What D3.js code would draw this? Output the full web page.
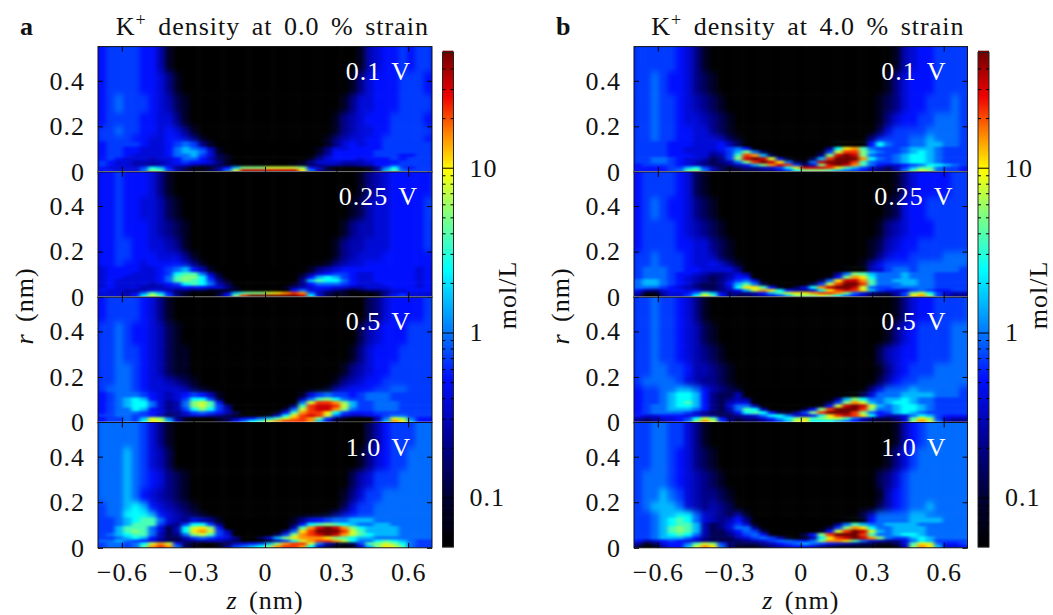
<!DOCTYPE html>
<html>
<head>
<meta charset="utf-8">
<script src="https://cdn.jsdelivr.net/npm/d3@7"></script>
<style>
  html, body { margin: 0; padding: 0; background: #fff; }
  text { font-family: "Liberation Serif", serif; fill: #111; letter-spacing: 1px; }
</style>
</head>
<body>
<div id="chart"></div>
<script>
// Density levels in mol/L, one per code character in the grids below
const densityLevels = [0.05, 0.08, 0.13, 0.2, 0.28, 0.38, 0.52, 0.68, 0.92, 1.5, 2.4, 3.7, 5.2, 7.5, 10.5, 15, 22, 32, 50];
const levelCodes = "0123456789abcdefghi";

const voltages = ["0.1 V", "0.25 V", "0.5 V", "1.0 V"];
const strains = ["0.0", "4.0"];
const panelLetters = ["a", "b"];
const zTicks = [-0.6, -0.3, 0, 0.3, 0.6];
const rTicks = [0, 0.2, 0.4];
const barTicks = [0.1, 1, 10];
const barMinorTicks = [0.06, 0.07, 0.08, 0.09, 0.2, 0.3, 0.4, 0.5, 0.6, 0.7, 0.8, 0.9, 2, 3, 4, 5, 6, 7, 8, 9, 20, 30, 40];

// Cell edges in nm. r is finer near the axis, where the thin bright layers sit
const zEdges = [-0.735, -0.7, -0.665, -0.63, -0.595, -0.56, -0.525, -0.49, -0.455, -0.42, -0.385, -0.35, -0.315, -0.28, -0.245, -0.21, -0.175, -0.14, -0.105, -0.07, -0.035, 0, 0.035, 0.07, 0.105, 0.14, 0.175, 0.21, 0.245, 0.28, 0.315, 0.35, 0.385, 0.42, 0.455, 0.49, 0.525, 0.56, 0.595, 0.63, 0.665, 0.7, 0.735];
const rEdges = [-0.03, 0.012, 0.024, 0.036, 0.05, 0.065, 0.08, 0.095, 0.11, 0.13, 0.16, 0.2, 0.26, 0.34, 0.44, 0.6];

// Grids, top row first
const strain0V01 = [
  "667777664100000000000000000000001456676776",
  "667777665310000000000000000000013566677766",
  "667877765421000000000000000000135566677776",
  "667777665531000000000000000001345666777766",
  "677877665653100000000000000001345566777776",
  "677776655665310000000000000013455667777766",
  "667777655678731000000000000013565667777776",
  "667766555689874100000000000135566667777776",
  "667766555689985100000000000136666677777776",
  "667765555688975210000000000246666677766776",
  "667655545568864210000000001356665666767776",
  "676554444567665310000000013555444566677776",
  "676554434555433211000000112344334466777776",
  "6655557a9632001369cccddddc6410000138a76776",
  "6665558cb74211248dhhhhhhhe8421000149b87776"
];
const strain0V025 = [
  "566766653100000000000000000000001345666667",
  "566766554210000000000000000000012455666677",
  "566766654321000000000000000000134455666676",
  "566776655431000000000000000001344555666676",
  "566776665553100000000000000001345556666666",
  "566766566665310000000000000013455666666666",
  "556666556789641000000000001345666666666565",
  "5566655567abb84100000000013567765566666565",
  "5566555568bcca62000000000269a9765566666565",
  "5565555568bcba7310000000039baa865566666565",
  "55655554567aba8420000000136888765556666565",
  "556555444556665531000001345665544555666565",
  "565544455433221111000000685543212334556665",
  "5555458b9621000149bccdefgf8421100013565555",
  "555546adb73100026cgiiiiiiha521100014675555"
];
const strain0V05 = [
  "667777653100000000000000000000000235666677",
  "677876654210000000000000000000002456667777",
  "677877654211000000000000000000013566677777",
  "677887654211000000000000000000134566777777",
  "677887655432100000000000000001345667777777",
  "678887655554210000000000000014566677887777",
  "667888765456764100000000015787767888777777",
  "66789a965457aa7200000000048bca877888777777",
  "66789aa85348cdb60000000008dggfc97788877777",
  "66789aa85348cdb7300000003bghhgd97788877777",
  "66788a965347aca7400000028dghhfc87788877777",
  "667888765335787642000016bfggea766677777777",
  "67788776423455432100015aeghgd8544567887777",
  "6677879dc8310001235689bdfgfc73100048dc8666",
  "667787aed9410001268abdfgggf951000059fe9666"
];
const strain0V10 = [
  "788888753100000000000000000000000246777888",
  "788898754200000000000000000000001356778888",
  "788898765321000000000000000000024577788888",
  "788898654321000000000000000000135778888888",
  "77889a965432100000000000000000257788888888",
  "7788aaa96543210000000000000013567788888888",
  "77789abb8543543100000000135678899988888888",
  "77789bbb7437aa730000000026abcba98899888888",
  "7779bbb8524adec6000000004bfhihfca999988888",
  "7779bcb8524aefd7400000038egiiigdb999988888",
  "7789abb84238cdb750000027cfghihfdba99988888",
  "77789a96422478765300259cefffecba9988888888",
  "788987653223344432000147adfggfda88aba98777",
  "778878adfd621001245679cfggd842127bcdca8777",
  "778878bfgf8210013789acfggfa5210159cedb8777"
];
const strain4V01 = [
  "677777653100000000000000000000001456677777",
  "677876653210000000000000000000013566677777",
  "677877654321000000000000000000123566777877",
  "677877655432100000000000000000135667788877",
  "677877665532100000000000000000257777888877",
  "677877665554210000000000000003677788988877",
  "677776665556420000000000000006a87788998877",
  "6777766555567860000000003aefb8777899987777",
  "67777665554579c8200000017dggc987789a987777",
  "6777766655347bgf92000003chihc87789aa987777",
  "6778876554237chihd510029giiifa8789aa987777",
  "67788765432348cgihe8218hiiigb87789aa987777",
  "6677776543223469cfhg725chihfb8655678aa9877",
  "66666779a7421233457aehhhgeb97532479bb87766",
  "6666678bc84211223357acccb987643248bdc87766"
];
const strain4V025 = [
  "667777652100000000000000000000001356666777",
  "667876653210000000000000000000012566777777",
  "667777654321000000000000000000134566677777",
  "667777665532100000000000000001245667777777",
  "677877765542100000000000000001356677778888",
  "677877765565310000000000000014677778888887",
  "678887766555530000000000000004578878888877",
  "678887665433453000000000038cb9888988877777",
  "67888765432346600000000016cfea888988877777",
  "7899876543235785000000028ehhfb889998877777",
  "78998765322369b820000027dgiigb888998877777",
  "7888765432235aeeb61025afhiihd8778888877777",
  "764356655323469dfea6435aeghge9765578766777",
  "641145568b95333469bdeefggfc8532247cda75445",
  "53003557aeb632234579cccdca86421137efc74334"
];
const strain4V05 = [
  "677877653100000000000000000000001356677778",
  "677877654210000000000000000000013567777888",
  "677877654321000000000000000000245667777888",
  "677887764432100000000000000000135677788888",
  "678888754332100000000000000000246778888888",
  "667788998643210000000000000003688898888877",
  "667789aa9632240000000000000025888999988877",
  "667789aa9632343000000000039ca8899a98877777",
  "667789ab963245500000000027cfd989aa98877777",
  "667889aa96325884000000016dhihd989aa9877777",
  "66788999863248ba4000026cgiiigc889aa9877777",
  "66788887532236aba62137cgiiigc8679a98777777",
  "76556665543223458aa8546aeghgea64458a976666",
  "64345567adb63233579acdbcddb8532235bec75445",
  "53234568cfd731223579deaaa986321125cfd84334"
];
const strain4V10 = [
  "777887753100000000000000000000001467888888",
  "777887653210000000000000000000013578888888",
  "778887654321000000000000000000235788888888",
  "778898754332100000000000000000146788888888",
  "778999854343200000000000000000246788988888",
  "777899aa8543241000000000000025888899888888",
  "77789aba8543463000000000000016888899998888",
  "77789abb9423575100000000038b98899998888888",
  "77789bcb942358830000000027cfea889999888888",
  "77789bcb94224687200000016dgihd989999888888",
  "77789aba842235786100026cgiiigb889aa9888888",
  "77789998632224578741014aeghihfc8779a988888",
  "76456765432222345788768cffeb8543358a977778",
  "63125668bdc73222346789876543221125bed86678",
  "52014669dfe83111234566532111110014cfe95567"
];
const gridsByStrain = [
  [strain0V01, strain0V025, strain0V05, strain0V10],
  [strain4V01, strain4V025, strain4V05, strain4V10]
];

const width = 1053;
const height = 615;
const panelX = [[98, 432], [634, 967.5]];
const barX = [[442.5, 453.5], [978, 989]];
const barLabelGap = [62, 58];
const panelTop = 46.6;
const panelH = 125.3;
const splitR = 0.11;
const labelSize = 26;

// Colour along the bar, position 0 to 1 on the log axis
const barStops = [0, 0.1, 0.22, 0.34, 0.44, 0.56, 0.67, 0.76, 0.83, 0.91, 1];
const barColors = ["#000000", "#000036", "#000098", "#0010ff", "#0080ff", "#00ffff", "#80ff80", "#ffff00", "#ff8c00", "#f00000", "#700000"];
const logPos = d3.scaleLog().domain([0.05, 50]).range([0, 1]);
const stopColor = d3.scaleLinear().domain(barStops).range(barColors).clamp(true);
const color = v => stopColor(logPos(v));

const svg = d3.select("#chart").append("svg").attr("width", width).attr("height", height);

const defs = svg.append("defs");
function addBlur(id, deviation) {
    defs.append("filter")
        .attr("id", id)
        .attr("color-interpolation-filters", "sRGB")
        .attr("x", "-10%").attr("y", "-20%").attr("width", "120%").attr("height", "140%")
      .append("feGaussianBlur")
        .attr("stdDeviation", deviation);
}
addBlur("soft-upper", "2.4 3.2");
addBlur("soft-lower", "1.9 0.8");

function drawCells(parent, cells, x, y, filterId) {
    parent.append("g").attr("filter", `url(#${filterId})`)
      .selectAll("rect")
      .data(cells)
      .join("rect")
        .attr("x", d => x(d.z0))
        .attr("y", d => y(d.r1))
        .attr("width", d => x(d.z1) - x(d.z0) + 0.5)
        .attr("height", d => y(d.r0) - y(d.r1) + 0.5)
        .attr("fill", d => color(d.value));
}

function drawPanel(col, row) {
    const top = panelTop + row * panelH;
    const x = d3.scaleLinear().domain([-0.7, 0.7]).range(panelX[col]);
    const y = d3.scaleLinear().domain([0, 0.55]).range([top + panelH, top]);
    const clipId = `clip-${col}-${row}`;

    defs.append("clipPath").attr("id", clipId)
      .append("rect")
        .attr("x", x(-0.7)).attr("y", y(0.55))
        .attr("width", x(0.7) - x(-0.7)).attr("height", panelH);

    const rows = gridsByStrain[col][row];
    const cells = [];
    rows.forEach((codes, j) => {
        const rowIndex = rows.length - 1 - j;
        codes.split("").forEach((c, i) => {
            cells.push({
                z0: zEdges[i], z1: zEdges[i + 1],
                r0: rEdges[rowIndex], r1: rEdges[rowIndex + 1],
                value: densityLevels[levelCodes.indexOf(c)]
            });
        });
    });

    const g = svg.append("g");
    const map = g.append("g").attr("clip-path", `url(#${clipId})`);
    // Wide rows get a heavier blur than the fine rows near the axis
    drawCells(map, cells.filter(d => d.r0 >= splitR - 0.03), x, y, "soft-upper");
    drawCells(map, cells.filter(d => d.r1 <= splitR + 0.02), x, y, "soft-lower");

    // Frame, then the white rule on r = 0 for the stacked panels
    g.append("rect")
        .attr("x", x(-0.7)).attr("y", top)
        .attr("width", x(0.7) - x(-0.7)).attr("height", panelH)
        .attr("fill", "none").attr("stroke", "#111").attr("stroke-width", 1);
    if (row < 3) {
        g.append("line")
            .attr("x1", x(-0.7)).attr("x2", x(0.7))
            .attr("y1", y(0)).attr("y2", y(0))
            .attr("stroke", "#fff").attr("stroke-width", 1.6);
    }

    const last = row === 3;
    const bottom = g.append("g")
        .attr("transform", `translate(0,${top + panelH})`)
        .call(d3.axisBottom(x).tickValues(zTicks).tickSize(-5).tickPadding(15)
            .tickFormat(d => last ? (d === 0 ? "0" : d3.format(".1f")(d).replace("-", "\u2212")) : ""));
    bottom.select(".domain").remove();
    bottom.selectAll("text").attr("font-size", labelSize).attr("font-family", "Liberation Serif").attr("fill", "#111");
    g.append("g")
        .attr("transform", `translate(0,${top})`)
        .call(d3.axisTop(x).tickValues(zTicks).tickSize(-5).tickFormat(""))
        .select(".domain").remove();

    const left = g.append("g")
        .attr("transform", `translate(${x(-0.7)},0)`)
        .call(d3.axisLeft(y).tickValues(rTicks).tickSize(-5).tickPadding(13)
            .tickFormat(d => d === 0 ? "0" : d3.format(".1f")(d)));
    left.select(".domain").remove();
    left.selectAll("text").attr("font-size", labelSize).attr("font-family", "Liberation Serif").attr("fill", "#111");
    g.append("g")
        .attr("transform", `translate(${x(0.7)},0)`)
        .call(d3.axisRight(y).tickValues(rTicks).tickSize(-5).tickFormat(""))
        .select(".domain").remove();

    g.append("text")
        .attr("x", x(0.475)).attr("y", top + 33)
        .attr("text-anchor", "middle")
        .attr("font-size", labelSize)
        .style("fill", "#fff")
        .attr("word-spacing", 3)
        .text(voltages[row]);
}

function drawColorbar(col) {
    const [x0, x1] = barX[col];
    const yBar = d3.scaleLog().domain([0.05, 50]).range([547, 52.5]);
    const steps = d3.range(0, 248).map(i => yBar.invert(547 - i * 2));
    svg.append("g").selectAll("rect")
        .data(steps)
        .join("rect")
            .attr("x", x0)
            .attr("y", d => yBar(d) - 2.3)
            .attr("width", x1 - x0)
            .attr("height", 2.6)
            .attr("fill", d => color(d));
    svg.append("rect")
        .attr("x", x0).attr("y", 52.5)
        .attr("width", x1 - x0).attr("height", 494.5)
        .attr("fill", "none").attr("stroke", "#222").attr("stroke-width", 1);

    const major = svg.append("g")
        .attr("transform", `translate(${x1},0)`)
        .call(d3.axisRight(yBar).tickValues(barTicks).tickSize(-(x1 - x0)).tickPadding(16)
            .tickFormat(d => String(d)));
    major.select(".domain").remove();
    major.selectAll("text").attr("font-size", labelSize).attr("font-family", "Liberation Serif").attr("fill", "#111");
    svg.append("g")
        .attr("transform", `translate(${x1},0)`)
        .call(d3.axisRight(yBar).tickValues(barMinorTicks).tickSize(-3).tickFormat(""))
        .select(".domain").remove();
    svg.append("g")
        .attr("transform", `translate(${x0},0)`)
        .call(d3.axisLeft(yBar).tickValues(barMinorTicks).tickSize(-3).tickFormat(""))
        .select(".domain").remove();

    svg.append("text")
        .attr("transform", `translate(${x1 + barLabelGap[col]},295) rotate(-90)`)
        .attr("text-anchor", "middle")
        .attr("font-size", labelSize)
        .text("mol/L");
}

function drawLabels(col) {
    const [x0, x1] = panelX[col];
    const title = svg.append("text")
        .attr("x", x1 - 3).attr("y", 35)
        .attr("text-anchor", "end")
        .attr("font-size", labelSize)
        .attr("word-spacing", 4);
    title.append("tspan").text("K");
    title.append("tspan").attr("dy", -9).attr("font-size", 18).text("+");
    title.append("tspan").attr("dy", 9).text(` density at ${strains[col]} % strain`);

    svg.append("text")
        .attr("x", col === 0 ? 20 : 556).attr("y", 35)
        .attr("font-size", labelSize).attr("font-weight", "bold")
        .text(panelLetters[col]);

    const zLabel = svg.append("text")
        .attr("x", (x0 + x1) / 2).attr("y", 609)
        .attr("text-anchor", "middle")
        .attr("font-size", labelSize)
        .attr("word-spacing", 4);
    zLabel.append("tspan").attr("font-style", "italic").text("z");
    zLabel.append("tspan").text(" (nm)");

    const rLabel = svg.append("text")
        .attr("transform", `translate(${x0 - 65},306) rotate(-90)`)
        .attr("text-anchor", "middle")
        .attr("font-size", labelSize)
        .attr("word-spacing", 4);
    rLabel.append("tspan").attr("font-style", "italic").text("r");
    rLabel.append("tspan").text(" (nm)");
}

[0, 1].forEach(col => {
    voltages.forEach((v, row) => drawPanel(col, row));
    drawColorbar(col);
    drawLabels(col);
});
</script>
</body>
</html>
